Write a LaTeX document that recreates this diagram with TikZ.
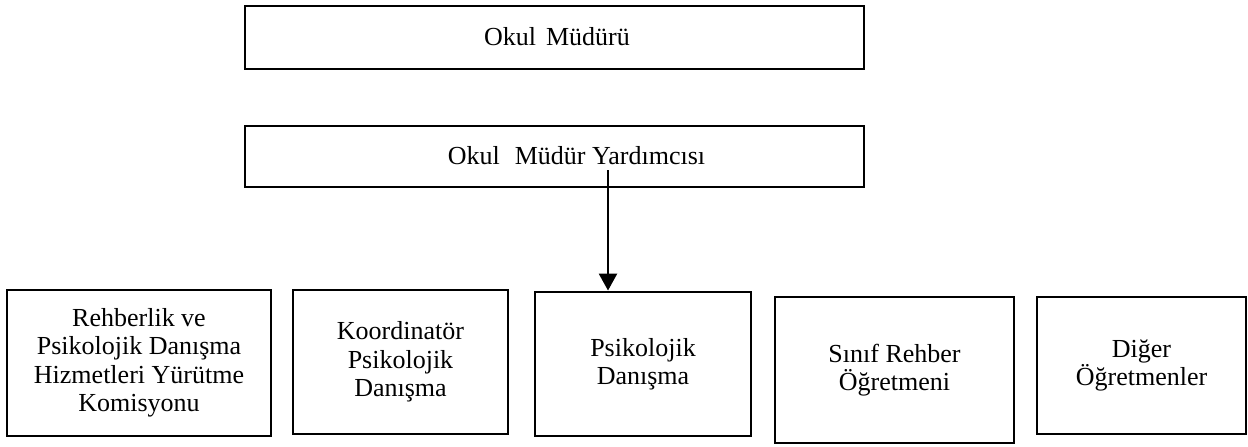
\documentclass[tikz,border=0pt]{standalone}
\usepackage{fontspec}
\setmainfont{Liberation Serif}
\usetikzlibrary{arrows.meta}
\tikzset{
  orgbox/.style={draw, line width=2.9pt, inner sep=0pt, align=center,
    font=\fontsize{26}{28.5}\selectfont},
  orgarrow/.style={line width=2.6pt, -{Triangle[width=18pt,length=17pt]}}
}
\begin{document}
\begin{tikzpicture}[x=1pt,y=-1pt]
\useasboundingbox (0,0) rectangle (1248,447);
\node[orgbox, minimum width=619pt, minimum height=63pt] (mudur) at (554.5,37.5)
  {\raisebox{3pt}{\hspace*{5pt}Okul\hspace{10pt}Müdürü}};
\node[orgbox, minimum width=619pt, minimum height=61pt] (yard) at (554.5,156.5)
  {\raisebox{3pt}{\hspace*{44pt}Okul\hspace{15pt}Müdür Yardımcısı}};
\node[orgbox, minimum width=264pt, minimum height=146pt] (b1) at (139,363)
  {Rehberlik ve\\Psikolojik Danışma\\Hizmetleri Yürütme\\Komisyonu};
\node[orgbox, minimum width=215pt, minimum height=144pt] (b2) at (400.5,362)
  {Koordinatör\\Psikolojik\\Danışma};
\node[orgbox, minimum width=216pt, minimum height=144pt] (b3) at (643,364)
  {Psikolojik\\Danışma};
\node[orgbox, minimum width=239pt, minimum height=146pt] (b4) at (894.5,370)
  {Sınıf Rehber\\Öğretmeni};
\node[orgbox, minimum width=209pt, minimum height=137pt] (b5) at (1141.5,365.5)
  {Diğer\\Öğretmenler};
\coordinate (as) at (608,170);
\draw[orgarrow] (as) -- (as |- b3.north);
\end{tikzpicture}
\end{document}
